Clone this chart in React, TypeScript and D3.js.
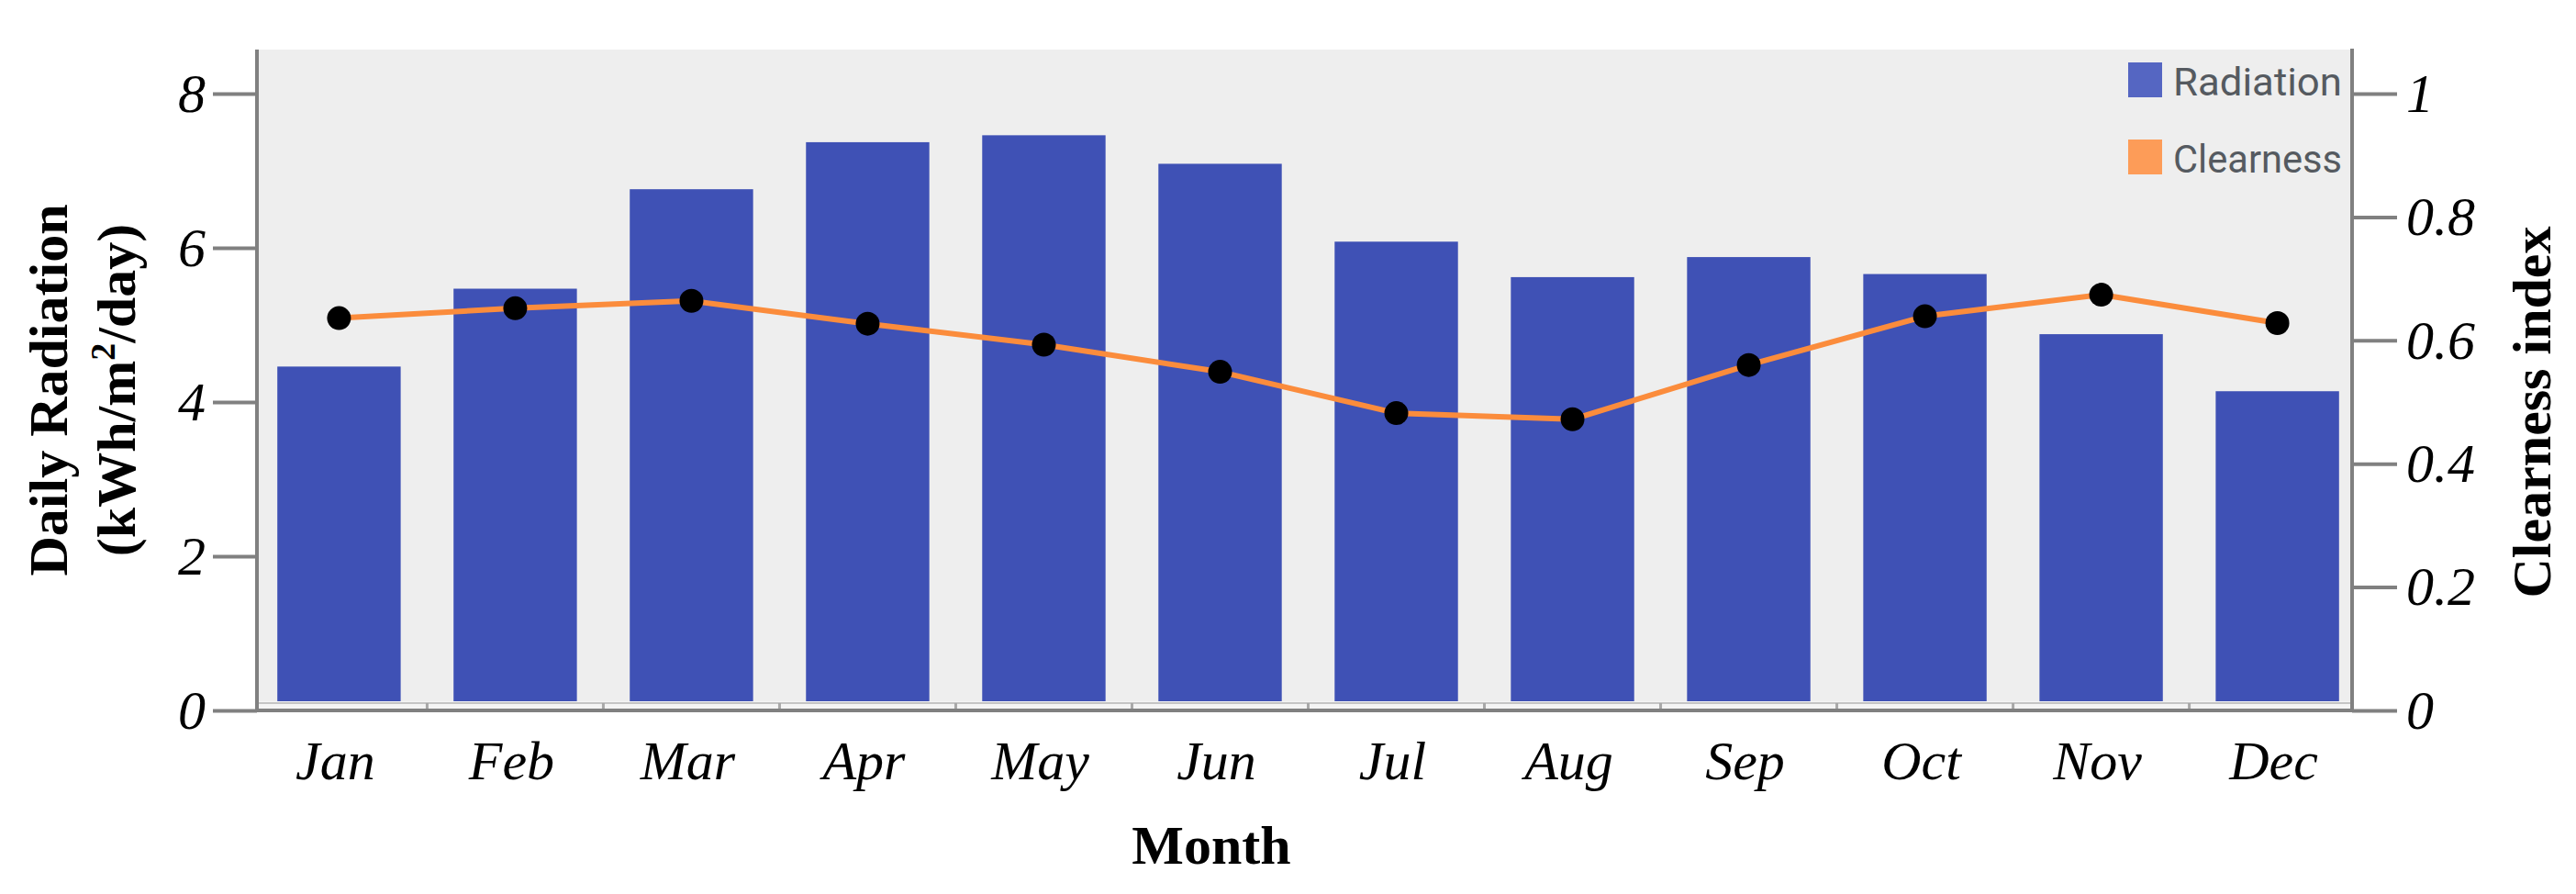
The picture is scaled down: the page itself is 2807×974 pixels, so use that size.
import React, { useEffect, useRef } from "react";
import * as d3 from "d3";

const months = ["Jan", "Feb", "Mar", "Apr", "May", "Jun", "Jul", "Aug", "Sep", "Oct", "Nov", "Dec"];
const radiation = [4.46, 5.47, 6.76, 7.37, 7.46, 7.09, 6.08, 5.62, 5.88, 5.66, 4.88, 4.14];
const clearness = [0.636, 0.652, 0.664, 0.627, 0.593, 0.549, 0.482, 0.472, 0.56, 0.639, 0.674, 0.628];
const leftTicks = [0, 2, 4, 6, 8];
const rightTicks = [0, 0.2, 0.4, 0.6, 0.8, 1];
const legendItems = ["Radiation", "Clearness"];

const W = 2807;
const H = 974;
const SERIF = "'Liberation Serif', 'Times New Roman', serif";
const BAR = "#3f51b5";
const ORANGE = "#fb8c3c";

export default function App() {
  const ref = useRef<SVGSVGElement | null>(null);

  useEffect(() => {
    const svg = d3.select(ref.current);
    svg.selectAll("*").remove();

    const plotL = 280, plotR = 2561, plotT = 54, plotB = 764, axisY = 774;

    const x = d3.scaleBand<string>().domain(months).range([283, 2568]).paddingInner(0.3).paddingOuter(0.1);
    const yL = d3.scaleLinear().domain([0, 8]).range([axisY, 102]);
    const yR = d3.scaleLinear().domain([0, 1]).range([axisY, 102]);

    svg.append("rect").attr("width", W).attr("height", H).attr("fill", "#ffffff");
    svg.append("rect").attr("x", plotL).attr("y", plotT).attr("width", plotR - plotL).attr("height", plotB - plotT).attr("fill", "#eeeeee");
    svg.append("rect").attr("x", plotL).attr("y", plotB).attr("width", plotR - plotL).attr("height", axisY - plotB).attr("fill", "#f4f4f4");

    // bars
    svg.append("g").selectAll("rect").data(months).join("rect")
      .attr("x", (d) => x(d)!)
      .attr("width", x.bandwidth())
      .attr("y", (d, i) => yL(radiation[i]))
      .attr("height", (d, i) => plotB - yL(radiation[i]))
      .attr("fill", BAR);

    // strip under plot with band separators
    svg.append("line").attr("x1", plotL).attr("x2", plotR).attr("y1", 766).attr("y2", 766).attr("stroke", "#c4c4c4").attr("stroke-width", 2);
    const gap = x.step() * x.paddingInner();
    svg.append("g").selectAll("line").data(months.slice(1)).join("line")
      .attr("x1", (d) => x(d)! - gap / 2).attr("x2", (d) => x(d)! - gap / 2)
      .attr("y1", 766).attr("y2", axisY)
      .attr("stroke", "#a8a8a8").attr("stroke-width", 3);

    // clearness line
    const line = d3.line<number>()
      .x((d, i) => x(months[i])! + x.bandwidth() / 2)
      .y((d) => yR(d));
    svg.append("path").datum(clearness).attr("d", line).attr("fill", "none").attr("stroke", ORANGE).attr("stroke-width", 6).attr("stroke-linejoin", "round");
    svg.append("g").selectAll("circle").data(clearness).join("circle")
      .attr("cx", (d, i) => x(months[i])! + x.bandwidth() / 2)
      .attr("cy", (d) => yR(d))
      .attr("r", 13)
      .attr("fill", "#000");

    // legend
    const legendColors = ["#5566c2", "#fd9c58"];
    const lg = svg.append("g");
    legendItems.forEach((name, i) => {
      lg.append("rect").attr("x", 2319).attr("y", 68 + i * 84).attr("width", 37).attr("height", 38).attr("fill", legendColors[i]);
      lg.append("text").attr("x", 2368).attr("y", 104 + i * 84).text(name)
        .attr("font-family", "Roboto, 'Open Sans', sans-serif").attr("font-size", 43)
        .attr("fill", "#555a60").attr("textLength", 184).attr("lengthAdjust", "spacingAndGlyphs");
    });

    // axes lines
    svg.append("line").attr("x1", plotL).attr("x2", plotL).attr("y1", plotT).attr("y2", axisY).attr("stroke", "#808080").attr("stroke-width", 4);
    svg.append("line").attr("x1", 2563).attr("x2", 2563).attr("y1", plotT - 1).attr("y2", axisY).attr("stroke", "#808080").attr("stroke-width", 4);
    svg.append("line").attr("x1", plotL).attr("x2", 2563).attr("y1", axisY).attr("y2", axisY).attr("stroke", "#808080").attr("stroke-width", 4);

    const gL = svg.append("g").attr("transform", `translate(${plotL},0)`)
      .call(d3.axisLeft(yL).tickValues(leftTicks).tickSize(48).tickPadding(8).tickFormat((d) => String(d)));
    const gR = svg.append("g").attr("transform", `translate(2563,0)`)
      .call(d3.axisRight(yR).tickValues(rightTicks).tickSize(49).tickPadding(10).tickFormat((d) => String(d)));
    [gL, gR].forEach((g) => {
      g.select(".domain").remove();
      g.selectAll(".tick line").attr("stroke", "#808080").attr("stroke-width", 4);
      g.selectAll(".tick text").attr("font-family", SERIF).attr("font-size", 60).attr("font-style", "italic").attr("fill", "#000");
    });

    // x labels
    svg.append("g").selectAll("text").data(months).join("text")
      .attr("x", (d) => x(d)! + x.bandwidth() / 2 - 4)
      .attr("y", 849)
      .attr("text-anchor", "middle")
      .attr("font-family", SERIF).attr("font-size", 60).attr("font-style", "italic").attr("fill", "#000")
      .text((d) => d);

    // titles
    svg.append("text").attr("x", 1320).attr("y", 941).attr("text-anchor", "middle")
      .attr("font-family", SERIF).attr("font-size", 60).attr("font-weight", "bold").text("Month");

    const t1 = svg.append("g").attr("transform", "translate(73,425) rotate(-90)");
    t1.append("text").attr("text-anchor", "middle").attr("font-family", SERIF).attr("font-size", 60).attr("font-weight", "bold").text("Daily Radiation");
    const t2 = svg.append("g").attr("transform", "translate(147,425) rotate(-90)");
    const tt = t2.append("text").attr("text-anchor", "middle").attr("font-family", SERIF).attr("font-size", 60).attr("font-weight", "bold");
    tt.append("tspan").text("(kWh/m");
    tt.append("tspan").attr("dy", -22).attr("font-size", 38).text("2");
    tt.append("tspan").attr("dy", 22).text("/day)");

    svg.append("g").attr("transform", "translate(2779,449) rotate(-90)")
      .append("text").attr("text-anchor", "middle").attr("font-family", SERIF).attr("font-size", 60).attr("font-weight", "bold").text("Clearness index");
  }, []);

  return (
    <svg ref={ref} width={W} height={H} style={{ position: "absolute", left: 0, top: 0, display: "block" }} />
  );
}
